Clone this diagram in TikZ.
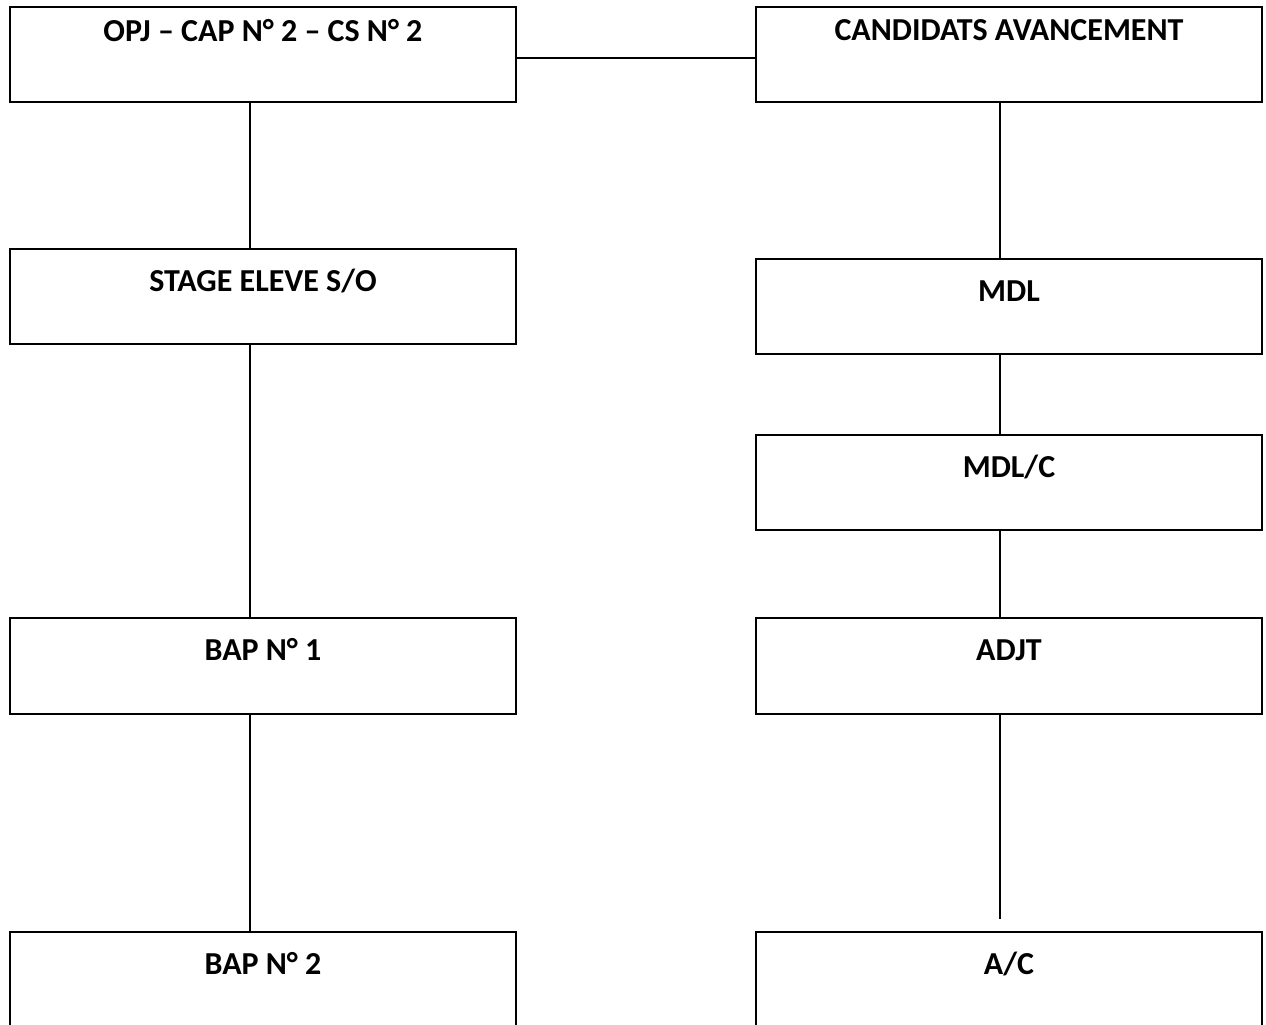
\documentclass[tikz,border=0pt]{standalone}
\usepackage{fontspec}
\setmainfont{Carlito}
\usepackage{tikz}
\usepackage{xcolor}

\begin{document}
\begin{tikzpicture}[x=1pt, y=-1pt,
  grade/.style={draw=black, line width=1.8pt, anchor=north west, outer sep=0pt,
    inner xsep=0pt, inner ysep=0pt, minimum width=506pt, minimum height=0pt,
    text height=42pt, text depth=53pt, font=\fontsize{32}{38}\selectfont\bfseries},
  link/.style={draw=black, line width=1.3pt}]
  % Fix the page size to the reference
  \useasboundingbox (0,0) rectangle (1266,1025);
  \clip (0,0) rectangle (1266,1025);

  % Columns and rows for the connectors
  \coordinate (colL) at (250,0);
  \coordinate (colR) at (1000,0);
  \coordinate (rowA) at (0,58);
  \coordinate (acend) at (1000,919);

  % Left column
  \node[grade, text height=35pt, text depth=60pt] (opj) at (10,7) {OPJ – CAP N° 2 – CS N° 2};
  \node[grade] (stage) at (10,249) {STAGE ELEVE S/O};
  \node[grade, text depth=54pt] (bapa) at (10,618) {BAP N° 1};
  \node[grade] (bapb) at (10,932) {BAP N° 2};

  % Right column
  \node[grade, text height=34pt, text depth=61pt] (cand) at (756,7) {CANDIDATS AVANCEMENT};
  \node[grade] (mdl) at (756,259) {MDL};
  \node[grade] (mdlc) at (756,435) {MDL/C};
  \node[grade, text depth=54pt] (adjt) at (756,618) {ADJT};
  \node[grade] (ac) at (756,932) {A/C};

  % Connectors
  \draw[link] (opj.east |- rowA) -- (cand.west |- rowA);
  \draw[link] (opj.south -| colL) -- (stage.north -| colL);
  \draw[link] (stage.south -| colL) -- (bapa.north -| colL);
  \draw[link] (bapa.south -| colL) -- (bapb.north -| colL);
  \draw[link] (cand.south -| colR) -- (mdl.north -| colR);
  \draw[link] (mdl.south -| colR) -- (mdlc.north -| colR);
  \draw[link] (mdlc.south -| colR) -- (adjt.north -| colR);
  \draw[link] (adjt.south -| colR) -- (acend);
\end{tikzpicture}
\end{document}
